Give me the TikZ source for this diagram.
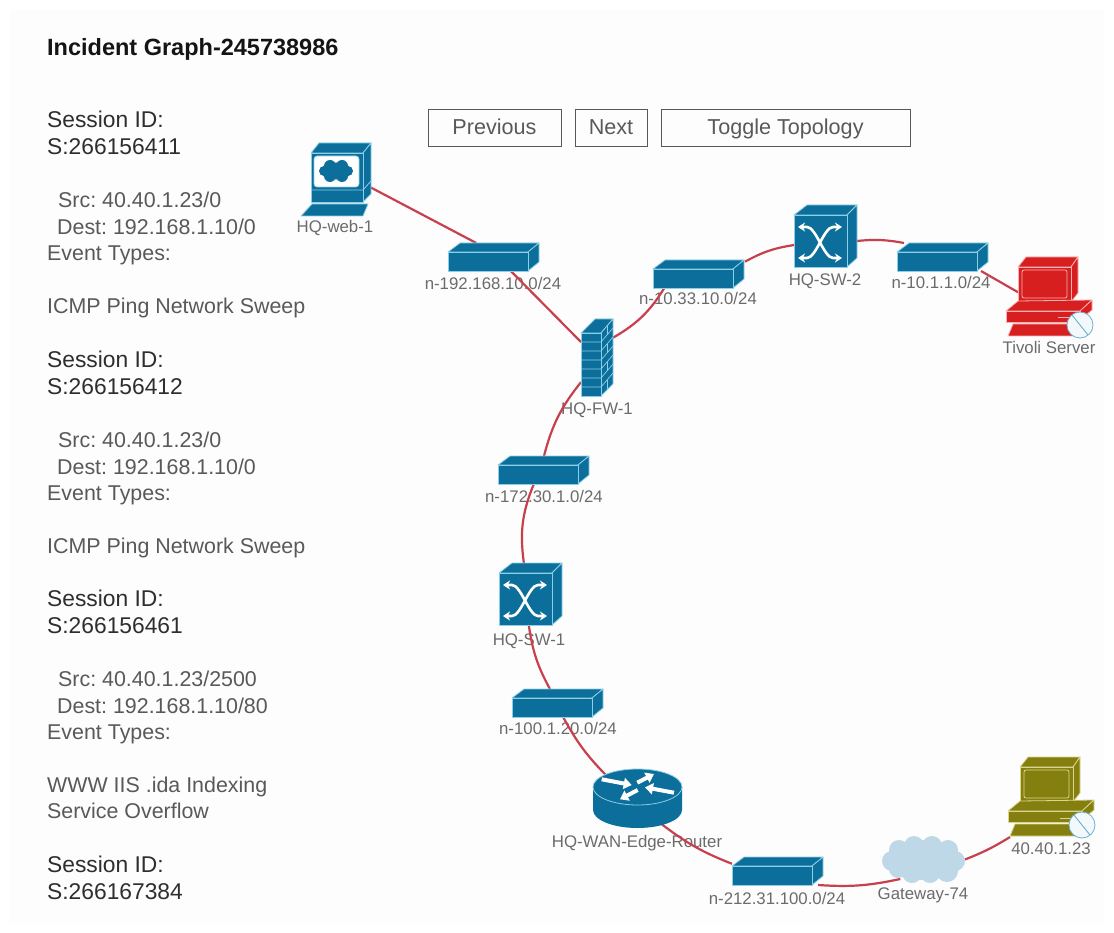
\documentclass[tikz,border=0pt]{standalone}
\usepackage{fontspec}
\setmainfont{Liberation Sans}
\usetikzlibrary{arrows.meta,shapes.geometric}
\frenchspacing
\definecolor{netblue}{HTML}{0B6E9B}
\definecolor{netline}{HTML}{8CCFE6}
\definecolor{linkred}{HTML}{C8404E}
\definecolor{pcred}{HTML}{D81F1F}
\definecolor{pcredl}{HTML}{F9B0B0}
\definecolor{pcolive}{HTML}{857F10}
\definecolor{pcolivel}{HTML}{DAD68E}
\definecolor{cloudblue}{HTML}{BFD8E8}
\definecolor{dotblue}{HTML}{6FB0D0}
\definecolor{paper}{HTML}{FDFDFD}
\tikzset{
  x=1pt,y=-1pt,
  heading/.style={anchor=base west,inner sep=0,font=\fontsize{23.5}{26}\selectfont\bfseries,text=black!92},
  sess/.style={anchor=base west,inner sep=0,font=\fontsize{22.8}{26}\selectfont,text=black!82},
  body/.style={anchor=base west,inner sep=0,font=\fontsize{21.4}{25}\selectfont,text=black!65},
  btn/.style={draw=black!65,line width=.9pt,inner sep=0,minimum height=37pt,text height=15pt,text depth=0pt,font=\fontsize{21.6}{25}\selectfont,text=black!65},
  lbl/.style={anchor=base,inner sep=0,font=\fontsize{16.8}{19}\selectfont,text=black!58},
  iconbox/.style={inner sep=0,outer sep=0,minimum width=#1},
  link/.style={draw=linkred,line width=2.2pt},
  face/.style={fill=netblue,draw=netline,line width=.8pt,line join=round},
  pics/segicon/.style={code={
    \path[face] (0,9)--(12,0)--(91,0)--(80,9)--cycle;
    \path[face] (80,9)--(91,0)--(91,19)--(80,28)--cycle;
    \path[face] (0,9) rectangle (80,28);
  }},
  pics/swicon/.style={code={
    \path[face] (0,10)--(13,0)--(63,0)--(53,10)--cycle;
    \path[face] (53,10)--(63,0)--(63,53)--(53,62)--cycle;
    \path[face] (0,10) rectangle (53,62);
    \draw[white,line width=2.6pt,{Stealth[length=7pt,width=9pt]}-{Stealth[length=7pt,width=9pt]}] (4,22)--(13,22) .. controls (22,22) and (30,53) .. (39,53)--(48,53);
    \draw[white,line width=2.6pt,{Stealth[length=7pt,width=9pt]}-{Stealth[length=7pt,width=9pt]}] (48,22)--(39,22) .. controls (30,22) and (22,53) .. (13,53)--(4,53);
  }},
  pics/fwicon/.style={code={
    \path[face] (0,14)--(14,0)--(32,0)--(20,14)--cycle;
    \path[face] (20,14)--(32,0)--(32,65)--(20,77)--cycle;
    \path[face] (0,14) rectangle (20,77);
    \foreach \k in {1,...,6}{
      \draw[netline,line width=.7pt] (0,14+9*\k)--(20,14+9*\k)--(32,9*\k);
    }
    \foreach \k in {0,2,4,6}{
      \draw[netline,line width=.6pt] (26,7+9*\k)--(26,16+9*\k);
    }
  }},
  pics/pcicon/.style 2 args={code={
    \tikzset{pcface/.style={fill=#1,draw=#2,line width=.8pt,line join=round}}
    \path[pcface] (13,10)--(21,0)--(73,0)--(66,10)--cycle;
    \path[pcface] (66,10)--(73,0)--(73,36)--(66,45)--cycle;
    \path[pcface] (13,10) rectangle (66,45);
    \draw[#2,line width=.8pt,rounded corners=2pt] (17,13) rectangle (62,41);
    \path[pcface] (1,54)--(13,44)--(87,43)--(75,54)--cycle;
    \path[pcface] (75,54)--(87,43)--(87,53)--(75,63)--cycle;
    \path[pcface] (1,54) rectangle (75,65);
    \path[pcface] (8,67)--(72,67)--(74,79)--(3,79)--cycle;
    \draw[#2,line width=1pt] (53,61)--(68,61);
    \draw[dotblue,fill=white!92!dotblue,line width=.8pt] (75,68) circle[radius=13];
    \draw[dotblue,line width=.9pt] (67,58)--(83,78);
  }},
  pics/webicon/.style={code={
    \path[face] (10,10)--(18,0)--(70,0)--(62,10)--cycle;
    \path[face] (62,10)--(70,0)--(70,51)--(62,59)--cycle;
    \path[face] (10,10) rectangle (62,59);
    \draw[netline,line width=.8pt] (10,47)--(62,47)--(70,38);
    \path[fill=white,draw=netline,line width=.6pt,rounded corners=3pt] (13,13) rectangle (58,44);
    \path[fill=netblue] (35,28) ellipse[x radius=16,y radius=8.5]
      (23,28) circle[radius=5] (47,28) circle[radius=5]
      (29,23) circle[radius=6] (41,23) circle[radius=6]
      (29,33) circle[radius=6] (41,33) circle[radius=6];
    \path[face] (11,61)--(67,61)--(62,73)--(0,73)--cycle;
  }},
  pics/routericon/.style={code={
    \path[fill=netblue] (0,18)--(0,41) arc[start angle=180,end angle=0,x radius=44.5,y radius=18]--(89,18)--cycle;
    \path[face] (44.5,18) ellipse[x radius=44.5,y radius=18];
    \foreach \a/\b/\c/\d in {8.7/10.3/38.7/16, 44.3/13.7/61/5, 81/23.7/52/18.3, 44.7/21/27/30.3}{
      \draw[white,line width=4pt,-{Triangle[length=8pt,width=11pt]}] (\a,\b)--(\c,\d);
    }
  }},
  pics/cloudicon/.style={code={
    \path[fill=cloudblue] (41,24) ellipse[x radius=33,y radius=20]
      (10,25) circle[radius=10] (17,14) circle[radius=10] (32,10) circle[radius=10]
      (50,10) circle[radius=10] (66,14) circle[radius=10] (73,25) circle[radius=10]
      (65,35) circle[radius=11] (48,37) circle[radius=10] (30,37) circle[radius=10] (16,33) circle[radius=9];
  }},
}
\begin{document}
\begin{tikzpicture}
\useasboundingbox (0,0) rectangle (1114,933);
\fill[white] (0,0) rectangle (1114,933);
\fill[paper] (10,10) rectangle (1104,923);

% left column
\node[heading] (title) at (47,56) {Incident Graph-245738986};
\node[sess] (s1a) at (47,128) {Session ID:};
\node[sess] (s1b) at (47,155) {S:266156411};
\node[body] (s1c) at (58,208) {Src: 40.40.1.23/0};
\node[body] (s1d) at (57,235) {Dest: 192.168.1.10/0};
\node[body] (s1e) at (47,261) {Event Types:};
\node[body] (s1f) at (47,314) {ICMP Ping Network Sweep};
\node[sess] (s2a) at (47,367) {Session ID:};
\node[sess] (s2b) at (47,394) {S:266156412};
\node[body] (s2c) at (58,447) {Src: 40.40.1.23/0};
\node[body] (s2d) at (57,474) {Dest: 192.168.1.10/0};
\node[body] (s2e) at (47,500) {Event Types:};
\node[body] (s2f) at (47,553) {ICMP Ping Network Sweep};
\node[sess] (s3a) at (47,606) {Session ID:};
\node[sess] (s3b) at (47,633) {S:266156461};
\node[body] (s3c) at (58,686) {Src: 40.40.1.23/2500};
\node[body] (s3d) at (57,713) {Dest: 192.168.1.10/80};
\node[body] (s3e) at (47,739) {Event Types:};
\node[body] (s3f) at (47,792) {WWW IIS .ida Indexing};
\node[body] (s3g) at (47,818) {Service Overflow};
\node[sess] (s4a) at (47,872) {Session ID:};
\node[sess] (s4b) at (47,899) {S:266167384};

% buttons
\node[btn,minimum width=133pt] (prev) at (494.5,127.5) {Previous};
\node[btn,minimum width=72pt] (next) at (611,127.5) {Next};
\node[btn,minimum width=249pt] (toggle) at (785.5,127.5) {Toggle Topology};

% device labels
\node[lbl] (lweb) at (335,233) {HQ-web-1};
\node[lbl] (ln192) at (493,290) {n-192.168.10.0/24};
\node[lbl] (ln33) at (698,305) {n-10.33.10.0/24};
\node[lbl] (lsw2) at (825,286) {HQ-SW-2};
\node[lbl] (ln101) at (941,289) {n-10.1.1.0/24};
\node[lbl] (ltiv) at (1049,353) {Tivoli Server};
\node[lbl] (lfw) at (597,414) {HQ-FW-1};
\node[lbl] (ln172) at (544,502) {n-172.30.1.0/24};
\node[lbl] (lsw1) at (529,645) {HQ-SW-1};
\node[lbl] (ln100) at (558,734) {n-100.1.20.0/24};
\node[lbl] (lrt) at (637,847) {HQ-WAN-Edge-Router};
\node[lbl] (ln212) at (777,904) {n-212.31.100.0/24};
\node[lbl] (lgw) at (923,899) {Gateway-74};
\node[lbl] (lpc) at (1051,854) {40.40.1.23};

% device anchors
\node[iconbox=70pt,minimum height=73pt] (web) at (336,179.5) {};
\node[iconbox=91pt,minimum height=28pt] (n192) at (493.5,257) {};
\node[iconbox=32pt,minimum height=77pt] (fw) at (597,357.5) {};
\node[iconbox=92pt,minimum height=28pt] (n33) at (699,274) {};
\node[iconbox=63pt,minimum height=62pt] (sw2) at (825.5,236) {};
\node[iconbox=91pt,minimum height=28pt] (n101) at (942.5,257) {};
\node[iconbox=60pt,minimum height=45pt] (tiv) at (1048,279.5) {};
\node[iconbox=91pt,minimum height=28pt] (n172) at (544,470) {};
\node[iconbox=62pt,minimum height=63pt] (sw1) at (530,594.5) {};
\node[iconbox=91pt,minimum height=28pt] (n100) at (558,703) {};
\node[ellipse,inner sep=0,outer sep=0,minimum width=89pt,minimum height=59pt] (rt) at (637.5,798.5) {};
\node[iconbox=91pt,minimum height=28pt] (n212) at (777.5,871) {};
\node[ellipse,inner sep=0,outer sep=0,minimum width=83pt,minimum height=47pt] (gw) at (923.5,859.5) {};
\node[iconbox=89pt,minimum height=80pt] (pc) at (1051.5,797) {};

% connectors
\draw[link] (web.-13) to (n192.141);
\draw[link] (n192.-39) to (fw.136);
\draw[link] (fw.51) to[bend right=14] (n33.202);
\draw[link] (n33.15) to[bend left=10] (sw2.196);
\draw[link] (sw2.-9) to[bend left=8] (n101.160);
\draw[link] (n101.-20) to (tiv.203);
\draw[link] (fw.237) to[bend right=12] (n172.90);
\draw[link] (n172.234) to[bend right=15] (sw1.101);
\draw[link] (sw1.-92) to[bend right=10] (n100.120);
\draw[link] (n100.-70) to[bend right=8] (rt.144);
\draw[link] (rt.-47) to[bend right=8] (n212.171);
\draw[link] (n212.-19) to[bend right=8] (gw.220);
\draw[link] (gw.0) to[bend right=5] (pc.224);

% icons
\pic at (301,143) {webicon};
\pic at (448,243) {segicon};
\pic at (581,319) {fwicon};
\pic at (653,260) {segicon};
\pic at (794,205) {swicon};
\pic at (897,243) {segicon};
\pic at (1005,257) {pcicon={pcred}{pcredl}};
\pic at (498,456) {segicon};
\pic at (499,563) {swicon};
\pic at (512,689) {segicon};
\pic at (593,769) {routericon};
\pic at (732,857) {segicon};
\pic at (882,836) {cloudicon};
\pic at (1007,757) {pcicon={pcolive}{pcolivel}};
\end{tikzpicture}
\end{document}
